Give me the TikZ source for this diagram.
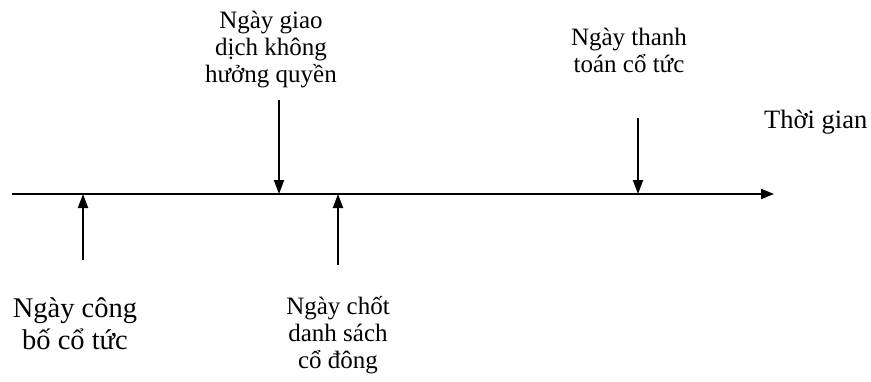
\documentclass[tikz,border=0pt]{standalone}
\usepackage{fontspec}
\setmainfont{Liberation Serif}
\usetikzlibrary{arrows.meta}
\begin{document}
\begin{tikzpicture}[x=1pt,y=-1pt,
  axis/.style={line width=2pt,-{Triangle[length=13pt,width=10pt]}},
  marker/.style={line width=2pt,-{Triangle[length=14pt,width=10pt]}},
  lbl/.style={align=center,inner sep=0pt,font=\fontsize{25}{27}\selectfont},
  biglbl/.style={align=center,inner sep=0pt,font=\fontsize{28.5}{32}\selectfont}]
\useasboundingbox (0,0) rectangle (871,381);
% time axis
\coordinate (axL) at (12,194);
\coordinate (axR) at (774,194);
\draw[axis] (axL) -- (axR);
\node[inner sep=0pt,anchor=base west,font=\fontsize{26.5}{30}\selectfont] (time) at (764,128) {Thời gian};
% event markers on the axis
\coordinate (p1) at (83,194);
\coordinate (p2) at (279,194);
\coordinate (p3) at (338,194);
\coordinate (p4) at (638,194);
\coordinate (s1) at (83,260);
\coordinate (s2) at (279,100);
\coordinate (s3) at (338,265);
\coordinate (s4) at (638,118);
\draw[marker] (s1) -- (p1);
\draw[marker] (s2) -- (p2);
\draw[marker] (s3) -- (p3);
\draw[marker] (s4) -- (p4);
% labels
\node[biglbl,anchor=north] (announce) at (75,297) {Ngày công\\bố cổ tức};
\node[lbl,anchor=north] (exdate) at (271,11) {Ngày giao\\dịch không\\hưởng quyền};
\node[lbl,anchor=north] (record) at (338,296) {Ngày chốt\\danh sách\\cổ đông};
\node[lbl,anchor=north] (pay) at (629,28) {Ngày thanh\\toán cổ tức};
\end{tikzpicture}
\end{document}
